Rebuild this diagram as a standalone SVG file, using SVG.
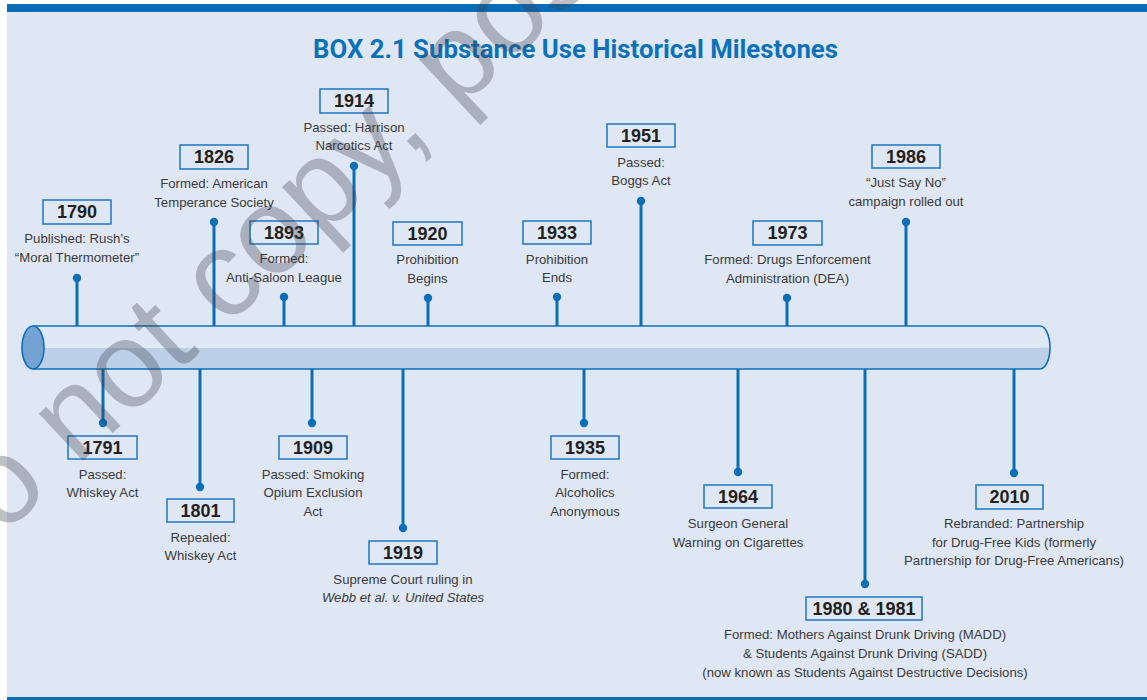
<svg xmlns="http://www.w3.org/2000/svg" width="1147" height="700" viewBox="0 0 1147 700">
<defs>
<style>
.yr{font-family:"Liberation Sans",Arial,sans-serif;font-weight:700;font-size:18px;fill:#231f20;text-anchor:middle}
.lb{font-family:"Liberation Sans",Arial,sans-serif;font-size:13.2px;fill:#3a3a3a;text-anchor:middle}
.box{fill:#e0e7f4;stroke:#2a7dc4;stroke-width:1.6}
.stem{stroke:#0b6fb7;stroke-width:3;fill:none}
.dot{fill:#0b6fb7}
</style>
</defs>
<rect x="0" y="0" width="1147" height="700" fill="#ffffff"/>
<rect x="7" y="4" width="1140" height="696" fill="#e0e7f4"/>
<rect x="7" y="4" width="1140" height="8" fill="#0a6db5"/>
<rect x="7" y="697" width="1140" height="3" fill="#0a6db5"/>
<text x="575.5" y="58" font-family="Roboto,'Liberation Sans',sans-serif" font-weight="700" font-size="25" fill="#0b72b9" text-anchor="middle" textLength="525" lengthAdjust="spacingAndGlyphs">BOX 2.1 Substance Use Historical Milestones</text>

<g id="connectors">
<line class="stem" x1="77" y1="326" x2="77" y2="278"/><circle class="dot" cx="77" cy="278" r="4.2"/>
<line class="stem" x1="214" y1="326" x2="214" y2="222"/><circle class="dot" cx="214" cy="222" r="4.2"/>
<line class="stem" x1="284" y1="326" x2="284" y2="297"/><circle class="dot" cx="284" cy="297" r="4.2"/>
<line class="stem" x1="354" y1="326" x2="354" y2="166"/><circle class="dot" cx="354" cy="166" r="4.2"/>
<line class="stem" x1="428" y1="326" x2="428" y2="298"/><circle class="dot" cx="428" cy="298" r="4.2"/>
<line class="stem" x1="557" y1="326" x2="557" y2="297"/><circle class="dot" cx="557" cy="297" r="4.2"/>
<line class="stem" x1="641" y1="326" x2="641" y2="201"/><circle class="dot" cx="641" cy="201" r="4.2"/>
<line class="stem" x1="787" y1="326" x2="787" y2="298"/><circle class="dot" cx="787" cy="298" r="4.2"/>
<line class="stem" x1="906" y1="326" x2="906" y2="222"/><circle class="dot" cx="906" cy="222" r="4.2"/>
<line class="stem" x1="103" y1="369" x2="103" y2="423"/><circle class="dot" cx="103" cy="423" r="4.2"/>
<line class="stem" x1="200" y1="369" x2="200" y2="487"/><circle class="dot" cx="200" cy="487" r="4.2"/>
<line class="stem" x1="312" y1="369" x2="312" y2="423"/><circle class="dot" cx="312" cy="423" r="4.2"/>
<line class="stem" x1="403" y1="369" x2="403" y2="528"/><circle class="dot" cx="403" cy="528" r="4.2"/>
<line class="stem" x1="584" y1="369" x2="584" y2="423"/><circle class="dot" cx="584" cy="423" r="4.2"/>
<line class="stem" x1="738" y1="369" x2="738" y2="472"/><circle class="dot" cx="738" cy="472" r="4.2"/>
<line class="stem" x1="865" y1="369" x2="865" y2="584"/><circle class="dot" cx="865" cy="584" r="4.2"/>
<line class="stem" x1="1014" y1="369" x2="1014" y2="473"/><circle class="dot" cx="1014" cy="473" r="4.2"/>
</g>

<g id="timeline">
<rect x="33" y="326" width="1008" height="43" fill="#dfe8f5"/>
<rect x="33" y="348" width="1008" height="21" fill="#bcd0e8"/>
<path d="M1040,326 A10,21.5 0 0 1 1040,369 Z" fill="#bcd0e8"/>
<path d="M1040,326 A10,21.5 0 0 1 1050,347.5 L1040,347.5 Z" fill="#dfe8f5"/>
<path d="M33,326 H1040 A10,21.5 0 0 1 1040,369 H33" fill="none" stroke="#0b6fb7" stroke-width="1.6"/>
<ellipse cx="33" cy="347.5" rx="11" ry="21.5" fill="#74a3d3" stroke="#0b6fb7" stroke-width="1.6"/>
</g>

<g id="n1790"><rect class="box" x="43" y="200" width="68" height="24"/><text class="yr" x="77" y="218">1790</text><text class="lb" x="77" y="243">Published: Rush’s</text><text class="lb" x="77" y="262">“Moral Thermometer”</text></g>
<g id="n1826"><rect class="box" x="180" y="145" width="68" height="24"/><text class="yr" x="214" y="163">1826</text><text class="lb" x="214" y="188">Formed: American</text><text class="lb" x="214" y="207">Temperance Society</text></g>
<g id="n1893"><rect class="box" x="250" y="221" width="68" height="23"/><text class="yr" x="284" y="239">1893</text><text class="lb" x="284" y="263">Formed:</text><text class="lb" x="284" y="282">Anti-Saloon League</text></g>
<g id="n1914"><rect class="box" x="320" y="89" width="68" height="24"/><text class="yr" x="354" y="107">1914</text><text class="lb" x="354" y="132">Passed: Harrison</text><text class="lb" x="354" y="150">Narcotics Act</text></g>
<g id="n1920"><rect class="box" x="393" y="222" width="69" height="23"/><text class="yr" x="427.5" y="240">1920</text><text class="lb" x="427.5" y="264">Prohibition</text><text class="lb" x="427.5" y="283">Begins</text></g>
<g id="n1933"><rect class="box" x="523" y="221" width="68" height="23"/><text class="yr" x="557" y="239">1933</text><text class="lb" x="557" y="264">Prohibition</text><text class="lb" x="557" y="282">Ends</text></g>
<g id="n1951"><rect class="box" x="607" y="124" width="68" height="23"/><text class="yr" x="641" y="142">1951</text><text class="lb" x="641" y="167">Passed:</text><text class="lb" x="641" y="185">Boggs Act</text></g>
<g id="n1973"><rect class="box" x="753" y="221" width="69" height="24"/><text class="yr" x="787.5" y="239">1973</text><text class="lb" x="787.5" y="264">Formed: Drugs Enforcement</text><text class="lb" x="787.5" y="283">Administration (DEA)</text></g>
<g id="n1986"><rect class="box" x="872" y="145" width="68" height="23"/><text class="yr" x="906" y="163">1986</text><text class="lb" x="906" y="187">“Just Say No”</text><text class="lb" x="906" y="206">campaign rolled out</text></g>

<g id="n1791"><rect class="box" x="68" y="436" width="69" height="23"/><text class="yr" x="102.5" y="454">1791</text><text class="lb" x="102.5" y="479">Passed:</text><text class="lb" x="102.5" y="497">Whiskey Act</text></g>
<g id="n1801"><rect class="box" x="167" y="499" width="67" height="23"/><text class="yr" x="200.5" y="517">1801</text><text class="lb" x="200.5" y="542">Repealed:</text><text class="lb" x="200.5" y="560">Whiskey Act</text></g>
<g id="n1909"><rect class="box" x="279" y="436" width="68" height="23"/><text class="yr" x="313" y="454">1909</text><text class="lb" x="313" y="479">Passed: Smoking</text><text class="lb" x="313" y="497">Opium Exclusion</text><text class="lb" x="313" y="516">Act</text></g>
<g id="n1919"><rect class="box" x="369" y="541" width="68" height="23"/><text class="yr" x="403" y="559">1919</text><text class="lb" x="403" y="584">Supreme Court ruling in</text><text class="lb" x="403" y="602" font-style="italic">Webb et al. v. United States</text></g>
<g id="n1935"><rect class="box" x="551" y="436" width="68" height="23"/><text class="yr" x="585" y="454">1935</text><text class="lb" x="585" y="479">Formed:</text><text class="lb" x="585" y="497">Alcoholics</text><text class="lb" x="585" y="516">Anonymous</text></g>
<g id="n1964"><rect class="box" x="704" y="485" width="68" height="23"/><text class="yr" x="738" y="503">1964</text><text class="lb" x="738" y="528">Surgeon General</text><text class="lb" x="738" y="547">Warning on Cigarettes</text></g>
<g id="n1980"><rect class="box" x="806" y="597" width="116" height="23"/><text class="yr" x="864" y="615">1980 &amp; 1981</text><text class="lb" x="865" y="639">Formed: Mothers Against Drunk Driving (MADD)</text><text class="lb" x="865" y="658">&amp; Students Against Drunk Driving (SADD)</text><text class="lb" x="865" y="677">(now known as Students Against Destructive Decisions)</text></g>
<g id="n2010"><rect class="box" x="976" y="485" width="67" height="24"/><text class="yr" x="1009.5" y="503">2010</text><text class="lb" x="1014" y="528">Rebranded: Partnership</text><text class="lb" x="1014" y="547">for Drug-Free Kids (formerly</text><text class="lb" x="1014" y="565">Partnership for Drug-Free Americans)</text></g>

<text x="-62" y="596" transform="rotate(-43 -62 596)" font-family="'Liberation Sans',Arial,sans-serif" font-size="122" fill="#3c4150" fill-opacity="0.33">Do not copy, post, or distribute</text>
</svg>
